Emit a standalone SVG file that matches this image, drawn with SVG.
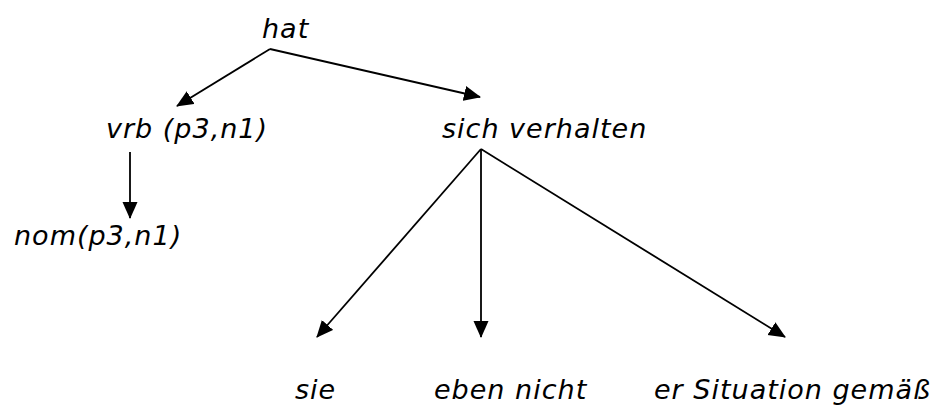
<svg xmlns="http://www.w3.org/2000/svg" width="937" height="406" viewBox="0 0 937 406">
<style>
text{font-family:Verdana,"DejaVu Sans",sans-serif;font-style:italic;font-size:27px;letter-spacing:1px;fill:#000}
.e{stroke:#000;stroke-width:1.8;fill:none;marker-end:url(#ah)}
</style>
<defs>
<marker id="ah" markerUnits="userSpaceOnUse" markerWidth="18" markerHeight="16" refX="16" refY="7.5" orient="auto">
<path d="M0,0 L17,7.5 L0,15 z" fill="#000"/>
</marker>
</defs>
<rect width="937" height="406" fill="#fff"/>
<g id="connectors">
<path class="e" d="M270,49 L177,106"/>
<path class="e" d="M270,49 L480,97"/>
<path class="e" d="M130,152 L130,218"/>
<path class="e" d="M481,149 L317,337"/>
<path class="e" d="M481,149 L481,337"/>
<path class="e" d="M481,149 L785,337"/>
</g>
<g id="n-hat"><text x="262" y="38">hat</text></g>
<g id="n-vrb"><text x="106" y="138">vrb (p3,n1)</text></g>
<g id="n-sich"><text x="442" y="138">sich verhalten</text></g>
<g id="n-nom"><text x="14" y="245">nom(p3,n1)</text></g>
<g id="n-sie"><text x="295" y="399">sie</text></g>
<g id="n-eben"><text x="434" y="399">eben nicht</text></g>
<g id="n-er"><text x="654" y="399">er Situation gemäß</text></g>
</svg>
